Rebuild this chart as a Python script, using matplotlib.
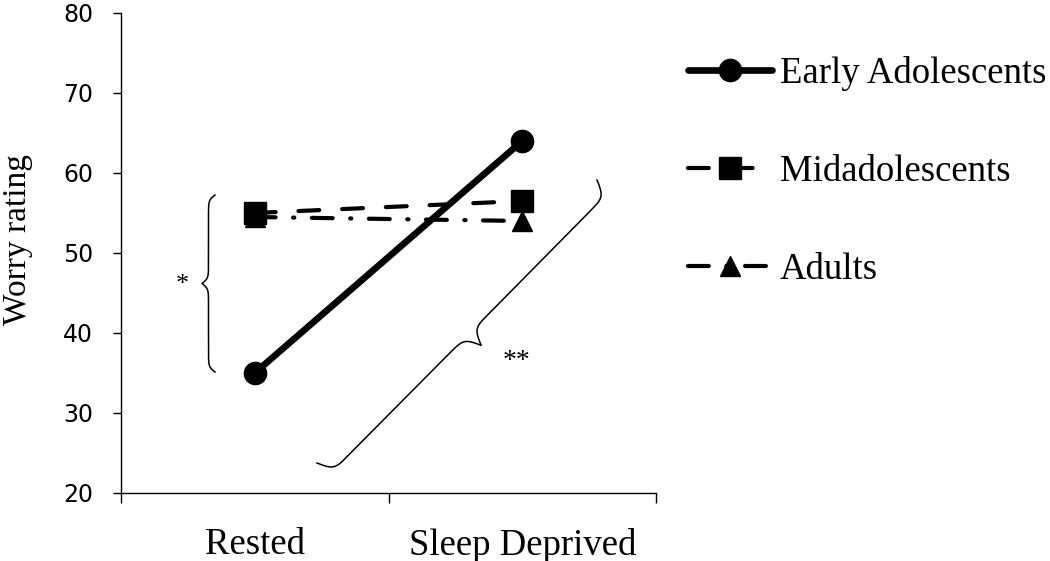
import matplotlib
matplotlib.use("Agg")
import matplotlib.pyplot as plt
import numpy as np
from matplotlib.lines import Line2D

# Дані
conditions = ["Rested", "Sleep Deprived"]
point_x = [0.5, 1.5]
early_adolescents = [35, 64]
midadolescents = [55, 56.5]
adults = [54.5, 54]

W, H = 1050, 561
SERIF = "Liberation Serif"


def brace(fig, p0, p1, depth, normal, beta=80, lw=1.1):
    """Фігурна дужка між двома точками (пікселі, y вниз)"""
    p0 = np.array(p0, float)
    p1 = np.array(p1, float)
    n = np.array(normal, float)
    n = n / np.linalg.norm(n)
    t = np.linspace(0, 1, 401)
    half = t[:201]
    s_half = 1 / (1 + np.exp(-beta * (half - half[0]))) + \
        1 / (1 + np.exp(-beta * (half - half[-1])))
    s = np.concatenate([s_half, s_half[-2::-1]])
    s = (s - s.min()) / (s.max() - s.min())
    pts = p0[None, :] + t[:, None] * (p1 - p0)[None, :] + (s * depth)[:, None] * n[None, :]
    fig.add_artist(Line2D(pts[:, 0] / W, 1 - pts[:, 1] / H,
                          transform=fig.transFigure, color="black", lw=lw))


fig = plt.figure(figsize=(10.5, 5.61), dpi=100)
ax = fig.add_axes([121 / W, 68 / H, 535 / W, 480 / H])

ax.plot(point_x, early_adolescents, color="black", lw=4.8, marker="o",
        markersize=16, label="Early Adolescents", solid_capstyle="round")
ax.plot(point_x, midadolescents, color="black", lw=3, marker="s",
        markersize=16, linestyle=(0, (5, 5.5)), label="Midadolescents",
        dash_capstyle="round")
ax.plot(point_x, adults, color="black", lw=3, marker="^",
        markersize=15, linestyle=(0, (5, 4.2, 0.3, 4.2)), label="Adults",
        dash_capstyle="round")

ax.set_xlim(0, 2)
ax.set_ylim(20, 80)
ax.set_yticks(np.arange(20, 81, 10))
ax.tick_params(axis="y", direction="out", length=6, width=1, pad=14, labelsize=17)
for lab in ax.get_yticklabels():
    lab.set_family("DejaVu Sans")

ax.set_xticks([0, 1, 2])
ax.set_xticklabels([])
ax.set_xticks([0.5, 1.5], minor=True)
ax.set_xticklabels(conditions, minor=True, fontsize=26.5, family=SERIF)
ax.tick_params(axis="x", which="major", direction="out", length=7, width=1)
ax.tick_params(axis="x", which="minor", length=0, pad=25)

for sp in ["top", "right"]:
    ax.spines[sp].set_visible(False)
for sp in ["left", "bottom"]:
    ax.spines[sp].set_linewidth(1)

ax.set_ylabel("Worry rating", fontsize=24, family=SERIF)
ax.yaxis.set_label_coords(-0.165, 0.527)

fig.legend(loc="upper left", bbox_to_anchor=(688 / W, 1 - 56 / H),
           frameon=False, prop={"family": SERIF, "size": 26.5},
           handlelength=2.28, handletextpad=0.22, labelspacing=1.72,
           borderpad=0, borderaxespad=0)

# Дужки та позначки значущості
brace(fig, (215, 195), (215, 372), 13, (-1, 0), beta=70)
fig.text(182 / W, 1 - 285 / H, "*", fontsize=19, family=SERIF,
         ha="center", va="center")
brace(fig, (597, 180), (317, 463), 34, (283, 280), beta=110)
fig.text(517 / W, 1 - 362 / H, "**", fontsize=20, family=SERIF,
         ha="center", va="center")

fig.savefig("out.png", dpi=100)
